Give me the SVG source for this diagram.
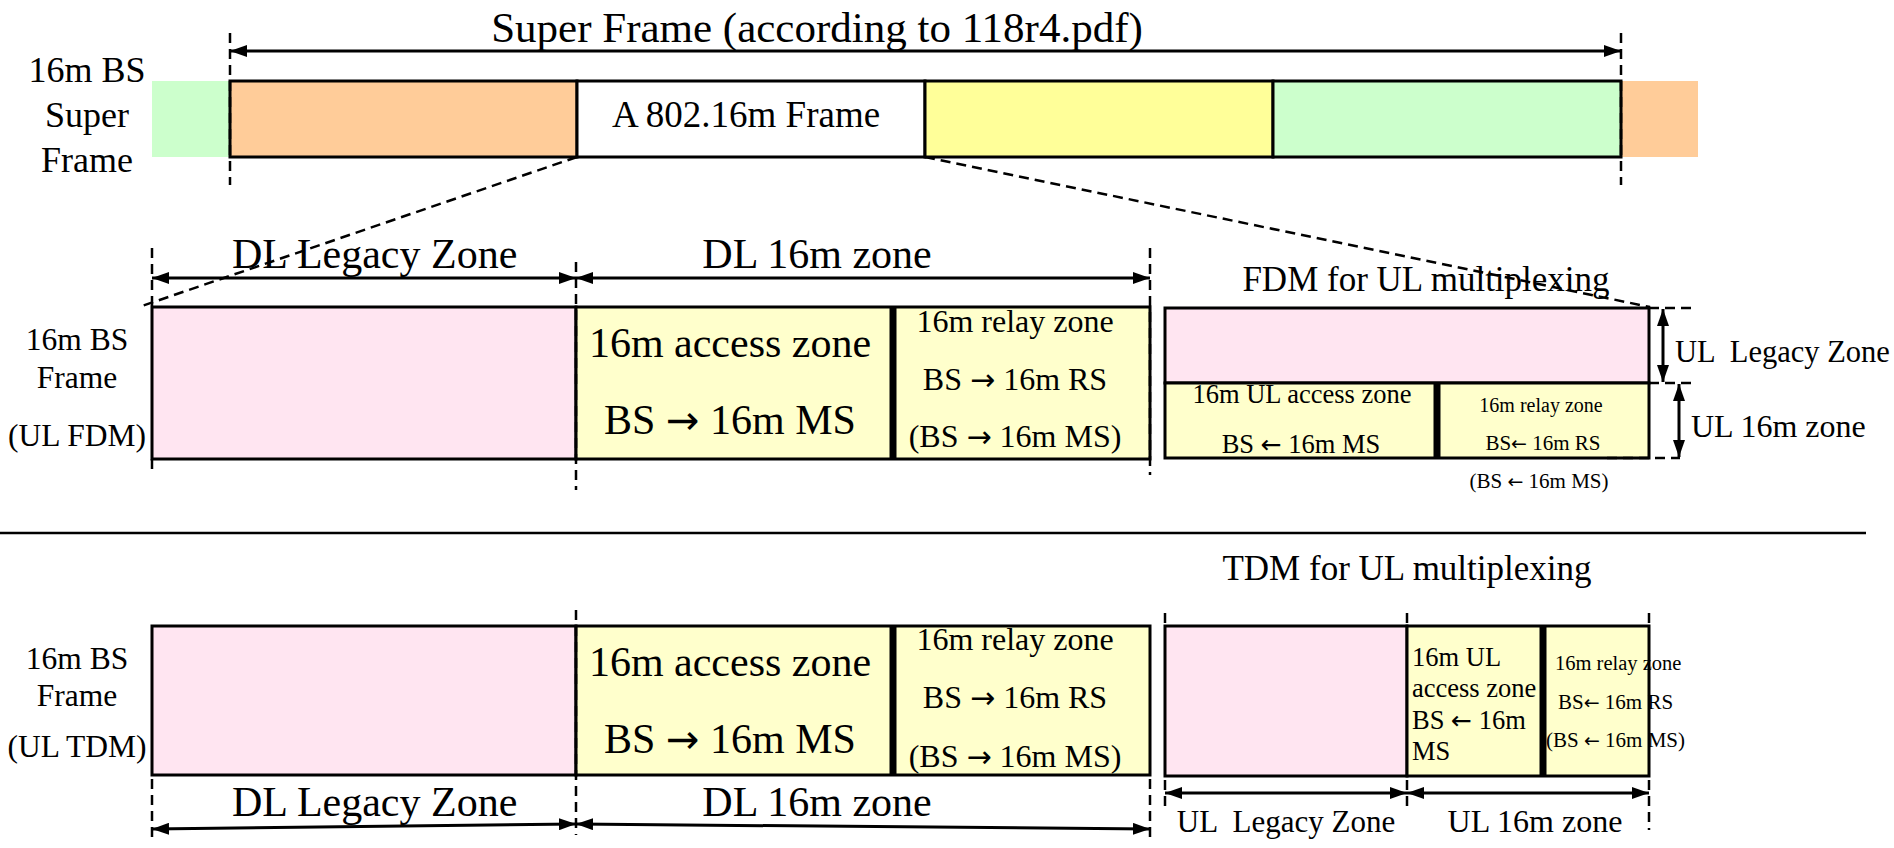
<svg xmlns="http://www.w3.org/2000/svg" width="1894" height="848" viewBox="0 0 1894 848">
<defs>
<marker id="ah" viewBox="0 0 17 12" markerWidth="17" markerHeight="12" refX="17" refY="6" orient="auto-start-reverse" markerUnits="userSpaceOnUse">
<path d="M0,0 L17,6 L0,12 z" fill="#000"/>
</marker>
<style>
text{font-family:"Liberation Serif","Times New Roman",serif;fill:#000}
.ar{font-family:"DejaVu Sans",sans-serif}
.box{stroke:#000;stroke-width:3}
.dash{stroke:#000;stroke-width:2.5;stroke-dasharray:10 6;fill:none}
.dim{stroke:#000;stroke-width:3;fill:none;marker-start:url(#ah);marker-end:url(#ah)}
.thick{stroke:#000;stroke-width:7}
.m{text-anchor:middle}
.pink{fill:#FFE5F1}
.ly{fill:#FFFFCC}
</style>
</defs>
<rect width="1894" height="848" fill="#fff"/>

<g id="superframe">
<text class="m" x="817" y="42" font-size="43">Super Frame (according to 118r4.pdf)</text>
<text class="m" x="87" y="82" font-size="36">16m BS</text>
<text class="m" x="87" y="127" font-size="36">Super</text>
<text class="m" x="87" y="172" font-size="36">Frame</text>
<rect x="152" y="81" width="78" height="76" fill="#CCFFCC"/>
<rect x="1621" y="81" width="77" height="76" fill="#FFCC99"/>
<rect class="box" x="230" y="81" width="347" height="76" fill="#FFCC99"/>
<rect class="box" x="577" y="81" width="348" height="76" fill="#fff"/>
<text class="m" x="746" y="127" font-size="37">A 802.16m Frame</text>
<rect class="box" x="925" y="81" width="348" height="76" fill="#FFFF99"/>
<rect class="box" x="1273" y="81" width="348" height="76" fill="#CCFFCC"/>
</g>

<g id="fdm-frame">
<text class="m" x="77" y="350" font-size="31.5">16m BS</text>
<text class="m" x="77" y="388" font-size="31.5">Frame</text>
<text class="m" x="77" y="446" font-size="31.5">(UL FDM)</text>
<rect class="box pink" x="152" y="307" width="424" height="152"/>
<rect class="box ly" x="576" y="307" width="574" height="152"/>
<line class="thick" x1="893" y1="307" x2="893" y2="459"/>
<text class="m" x="730" y="357" font-size="42">16m access zone</text>
<text class="m" x="730" y="434" font-size="42">BS <tspan class="ar" font-size="40">→</tspan> 16m MS</text>
<text class="m" x="1015" y="332" font-size="32">16m relay zone</text>
<text class="m" x="1015" y="390" font-size="32">BS <tspan class="ar" font-size="30">→</tspan> 16m RS</text>
<text class="m" x="1015" y="447" font-size="32">(BS <tspan class="ar" font-size="30">→</tspan> 16m MS)</text>
<text x="232" y="268" font-size="42">DL Legacy Zone</text>
<text class="m" x="817" y="268" font-size="42">DL 16m zone</text>
</g>

<g id="fdm-ul">
<text class="m" x="1426" y="291" font-size="35">FDM for UL multiplexing</text>
<rect class="box pink" x="1165" y="308" width="484" height="75"/>
<rect class="box ly" x="1165" y="383" width="484" height="75"/>
<line class="thick" x1="1437" y1="383" x2="1437" y2="458"/>
<text class="m" x="1302" y="403" font-size="26.5">16m UL access zone</text>
<text class="m" x="1301" y="453" font-size="26.5">BS <tspan class="ar" font-size="25">←</tspan> 16m MS</text>
<text class="m" x="1541" y="412" font-size="20">16m relay zone</text>
<text class="m" x="1543" y="450" font-size="21">BS<tspan class="ar" font-size="19">←</tspan> 16m RS</text>
<text class="m" x="1539" y="488" font-size="21">(BS <tspan class="ar" font-size="19">←</tspan> 16m MS)</text>
<text x="1675" y="362" font-size="30.5" xml:space="preserve">UL  Legacy Zone</text>
<text x="1691" y="437" font-size="32">UL 16m zone</text>
</g>

<g id="tdm-frame">
<text class="m" x="77" y="669" font-size="31.5">16m BS</text>
<text class="m" x="77" y="706" font-size="31.5">Frame</text>
<text class="m" x="77" y="757" font-size="31.5">(UL TDM)</text>
<rect class="box pink" x="152" y="626" width="424" height="149"/>
<rect class="box ly" x="576" y="626" width="574" height="149"/>
<line class="thick" x1="893" y1="626" x2="893" y2="775"/>
<text class="m" x="730" y="676" font-size="42">16m access zone</text>
<text class="m" x="730" y="753" font-size="42">BS <tspan class="ar" font-size="40">→</tspan> 16m MS</text>
<text class="m" x="1015" y="650" font-size="32">16m relay zone</text>
<text class="m" x="1015" y="708" font-size="32">BS <tspan class="ar" font-size="30">→</tspan> 16m RS</text>
<text class="m" x="1015" y="767" font-size="32">(BS <tspan class="ar" font-size="30">→</tspan> 16m MS)</text>
<text x="232" y="816" font-size="42">DL Legacy Zone</text>
<text class="m" x="817" y="816" font-size="42">DL 16m zone</text>
</g>

<g id="tdm-ul">
<text class="m" x="1407" y="580" font-size="35">TDM for UL multiplexing</text>
<rect class="box pink" x="1165" y="626" width="242" height="150"/>
<rect class="box ly" x="1407" y="626" width="242" height="150"/>
<line class="thick" x1="1543" y1="626" x2="1543" y2="776"/>
<text x="1412" y="666" font-size="26.5">16m UL</text>
<text x="1412" y="697" font-size="26.5">access zone</text>
<text x="1412" y="729" font-size="26.5">BS <tspan class="ar" font-size="25">←</tspan> 16m</text>
<text x="1412" y="760" font-size="26.5">MS</text>
<text x="1555" y="670" font-size="20.5">16m relay zone</text>
<text x="1558" y="709" font-size="21">BS<tspan class="ar" font-size="19">←</tspan> 16m RS</text>
<text x="1546" y="747" font-size="21">(BS <tspan class="ar" font-size="19">←</tspan> 16m MS)</text>
<text class="m" x="1286" y="832" font-size="31" xml:space="preserve">UL  Legacy Zone</text>
<text class="m" x="1535" y="832" font-size="32">UL 16m zone</text>
</g>

<g id="connectors">
<line class="dim" x1="230" y1="51" x2="1621" y2="51"/>
<line class="dash" x1="230" y1="33" x2="230" y2="185"/>
<line class="dash" x1="1621" y1="33" x2="1621" y2="185"/>
<line class="dash" x1="577" y1="157" x2="142" y2="306"/>
<line class="dash" x1="925" y1="157" x2="1650" y2="307"/>

<line class="dash" x1="152" y1="248" x2="152" y2="307"/>
<line class="dash" x1="152" y1="459" x2="152" y2="475"/>
<line class="dash" x1="576" y1="262" x2="576" y2="490"/>
<line class="dash" x1="1150" y1="248" x2="1150" y2="475"/>
<line class="dim" x1="152" y1="278" x2="576" y2="278"/>
<line class="dim" x1="576" y1="278" x2="1150" y2="278"/>

<line class="dash" x1="1649" y1="308" x2="1697" y2="308"/>
<line class="dash" x1="1649" y1="383" x2="1697" y2="383"/>
<line class="dash" x1="1607" y1="458" x2="1680" y2="458"/>
<line class="dim" x1="1663" y1="309" x2="1663" y2="382"/>
<line class="dim" x1="1679" y1="384" x2="1679" y2="457"/>

<line x1="0" y1="533" x2="1866" y2="533" stroke="#000" stroke-width="2.5"/>

<line class="dash" x1="576" y1="610" x2="576" y2="835"/>
<line class="dash" x1="152" y1="779" x2="152" y2="843"/>
<line class="dash" x1="1150" y1="779" x2="1150" y2="843"/>
<line class="dim" x1="152" y1="829" x2="576" y2="824"/>
<line class="dim" x1="576" y1="824" x2="1150" y2="829"/>

<line class="dash" x1="1165" y1="613" x2="1165" y2="626"/>
<line class="dash" x1="1407" y1="613" x2="1407" y2="626"/>
<line class="dash" x1="1649" y1="613" x2="1649" y2="626"/>
<line class="dash" x1="1165" y1="780" x2="1165" y2="812"/>
<line class="dash" x1="1407" y1="780" x2="1407" y2="812"/>
<line class="dash" x1="1649" y1="780" x2="1649" y2="830"/>
<line class="dim" x1="1165" y1="793" x2="1407" y2="793"/>
<line class="dim" x1="1407" y1="793" x2="1649" y2="793"/>
</g>
</svg>
